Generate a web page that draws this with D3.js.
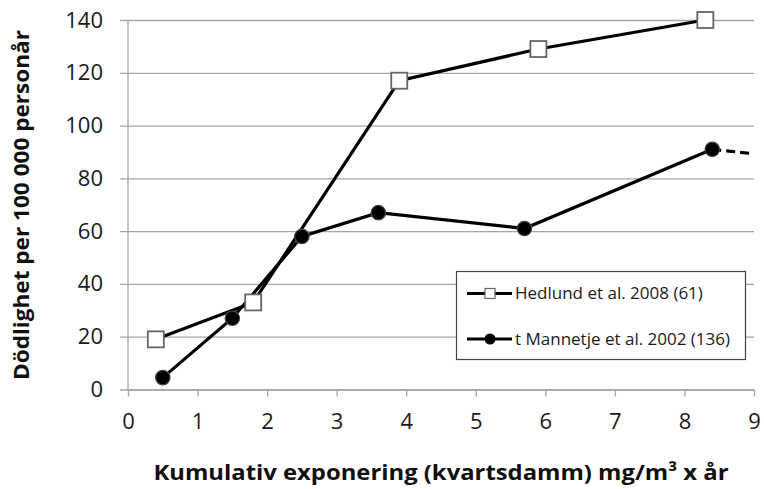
<!DOCTYPE html>
<html><head><meta charset="utf-8">
<script src="https://cdn.jsdelivr.net/npm/d3@7"></script>
<style>
body{margin:0;background:#fff;}
svg{display:block;font-family:"Open Sans","Noto Sans",sans-serif;}
</style></head><body>
<svg id="c" width="764" height="489"></svg>
<script>
const xTicks = [0,1,2,3,4,5,6,7,8,9];
const yTicks = [0,20,40,60,80,100,120,140];
const seriesNames = ["Hedlund et al. 2008 (61)", "t Mannetje et al. 2002 (136)"];
const hedlundX = [0.4, 1.8, 3.9, 5.9, 8.3];
const hedlundY = [19, 33, 117, 129, 140];
const mannetjeX = [0.5, 1.5, 2.5, 3.6, 5.7, 8.4];
const mannetjeY = [4.5, 27, 58, 67, 61, 91];
const trendX = [8.4, 9.0];
const trendY = [91, 89.3];
const xTitle = "Kumulativ exponering (kvartsdamm) mg/m³ x år";
const yTitle = "Dödlighet per 100 000 personår";

const svg = d3.select("#c");
const x = d3.scaleLinear().domain([0,9]).range([128,754]);
const y = d3.scaleLinear().domain([0,140]).range([389.5,20]);
const grid = "#a6a6a6";

// gridlines + y labels
const ya = svg.append("g").attr("transform","translate(120,0)")
  .call(d3.axisLeft(y).tickValues(yTicks).tickSize(-634).tickPadding(17));
ya.select(".domain").remove();
ya.selectAll(".tick line").attr("stroke",grid).attr("stroke-width",1.3);
ya.selectAll(".tick text").attr("font-size",22).attr("fill","#1a1a1a").attr("font-family","Open Sans");

// y axis line
svg.append("line").attr("x1",x(0)).attr("x2",x(0)).attr("y1",y(140)).attr("y2",y(0))
  .attr("stroke",grid).attr("stroke-width",1.3);

// x axis
const xa = svg.append("g").attr("transform",`translate(0,${y(0)})`)
  .call(d3.axisBottom(x).tickValues(xTicks).tickSize(7).tickSizeOuter(0).tickPadding(17));
xa.select(".domain").attr("stroke",grid).attr("stroke-width",1.3);
xa.selectAll(".tick line").attr("stroke",grid).attr("stroke-width",1.3);
xa.selectAll(".tick text").attr("font-size",22).attr("fill","#1a1a1a").attr("font-family","Open Sans");

const line = d3.line().x(d=>x(d[0])).y(d=>y(d[1]));
const hData = hedlundX.map((v,i)=>[v,hedlundY[i]]);
const mData = mannetjeX.map((v,i)=>[v,mannetjeY[i]]);
const tData = trendX.map((v,i)=>[v,trendY[i]]);

svg.append("path").datum(tData).attr("d",line).attr("fill","none")
  .attr("stroke","#000").attr("stroke-width",3.2).attr("stroke-dasharray","9,5");
svg.append("path").datum(hData).attr("d",line).attr("fill","none")
  .attr("stroke","#000").attr("stroke-width",3.2);
svg.append("path").datum(mData).attr("d",line).attr("fill","none")
  .attr("stroke","#000").attr("stroke-width",3.2);

svg.selectAll(".mc").data(mData).join("circle")
  .attr("cx",d=>x(d[0])).attr("cy",d=>y(d[1])).attr("r",7.2)
  .attr("fill","#000").attr("stroke","#444").attr("stroke-width",1.2);
svg.selectAll(".hs").data(hData).join("rect")
  .attr("x",d=>x(d[0])-8).attr("y",d=>y(d[1])-8).attr("width",16).attr("height",16)
  .attr("fill","#fff").attr("stroke","#666").attr("stroke-width",1.8);

// legend
const lg = svg.append("g");
lg.append("rect").attr("x",456.5).attr("y",271.5).attr("width",289).attr("height",88)
  .attr("fill","#fff").attr("stroke","#444").attr("stroke-width",1.2);
const ly = [293.5, 339];
[0,1].forEach(i=>{
  lg.append("line").attr("x1",467).attr("x2",512).attr("y1",ly[i]).attr("y2",ly[i])
    .attr("stroke","#000").attr("stroke-width",3.2);
  if(i===0){
    lg.append("rect").attr("x",485).attr("y",ly[i]-5).attr("width",10).attr("height",10)
      .attr("fill","#fff").attr("stroke","#666").attr("stroke-width",1.2);
  } else {
    lg.append("circle").attr("cx",490).attr("cy",ly[i]).attr("r",5.5).attr("fill","#000");
  }
  lg.append("text").attr("x",515).attr("y",ly[i]).attr("dy","0.35em")
    .attr("font-size",17).attr("fill","#1a1a1a").text(seriesNames[i]);
});

// titles
svg.append("text").attr("x",441).attr("y",480).attr("text-anchor","middle")
  .attr("font-size",22).attr("font-weight","bold").attr("fill","#111")
  .attr("textLength",575).attr("lengthAdjust","spacingAndGlyphs").text(xTitle);
svg.append("text").attr("transform","translate(29,205) rotate(-90)").attr("text-anchor","middle")
  .attr("font-size",21).attr("font-weight","bold").attr("fill","#111")
  .attr("textLength",350).attr("lengthAdjust","spacingAndGlyphs").text(yTitle);
</script></body></html>
